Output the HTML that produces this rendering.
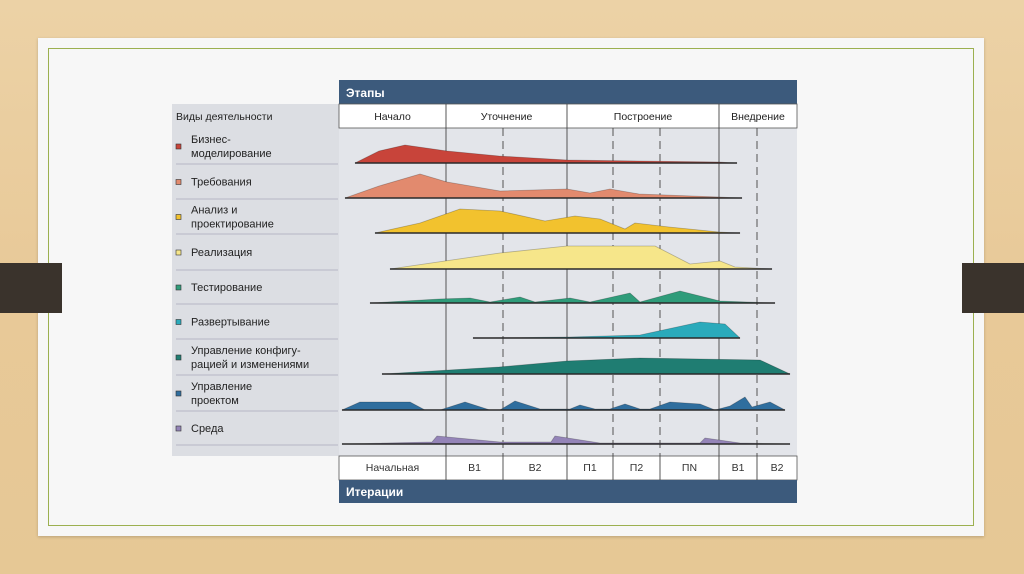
<!DOCTYPE html>
<html><head><meta charset="utf-8"><style>
body{margin:0;width:1024px;height:574px;background:linear-gradient(180deg,#ecd2a6,#e8c998 50%,#e6c895);position:relative;overflow:hidden;font-family:"Liberation Sans",sans-serif}
.card{position:absolute;left:38px;top:38px;width:946px;height:498px;background:#f7f7f7;box-shadow:0 1px 3px rgba(0,0,0,.2)}
.inner{position:absolute;left:10px;top:10px;width:924px;height:476px;border:1.5px solid #9cb050}
.tab{position:absolute;top:263px;width:62px;height:50px;background:#3a332c;z-index:5}
</style></head><body>
<div class="card"><div class="inner"></div></div>
<svg id="chart" width="1024" height="574" style="position:absolute;left:0;top:0" font-family="Liberation Sans, sans-serif"></svg>
<div class="tab" style="left:0"></div>
<div class="tab" style="left:962px"></div>
<script>
const activities=["Бизнес-|моделирование","Требования","Анализ и|проектирование","Реализация","Тестирование","Развертывание","Управление конфигу-|рацией и изменениями","Управление|проектом","Среда"];
const colors=["#c8443a","#e28a6e","#f2c22e","#f6e68a","#2f9c7a","#2aaabb","#1f7d72","#2f6e9e","#9484b8"];
const phases=["Начало","Уточнение","Построение","Внедрение"];
const phaseBounds=[0,107,228,380,458];
const iterations=["Начальная","В1","В2","П1","П2","ПN","В1","В2"];
const iterBounds=[0,107,164,228,274,321,380,418,458];
const t0=[16,40,66,108,160,228,300,380,398];
const h0=[0,12,18,12,7,3,2,1,0];
const t1=[6,40,81,108,161,228,251,271,300,380,403];
const h1=[0,12,24,16,7,9,5,9,4,1,0];
const t2=[36,81,121,161,206,236,261,286,296,330,380,401];
const h2=[0,10,24,22,12,17,14,4,10,6,1,0];
const t3=[51,161,228,316,351,361,381,396,433];
const h3=[0,16,23,23,5,6,8,2,0];
const t4=[31,100,131,151,181,196,231,251,291,301,341,381,436];
const h4=[0,4,5,1,6,1,5,1,10,1,12,2,0];
const t5=[134,231,301,361,386,401];
const h5=[0,1,3,16,14,0];
const t6=[43,160,228,301,421,451];
const h6=[0,7,13,16,14,0];
const t7=[3,21,71,86,101,126,151,161,176,201,231,241,256,271,286,301,311,331,361,376,391,406,413,431,446];
const h7=[0,8,8,0,0,8,0,0,9,1,1,5,1,1,6,1,1,8,6,0,4,13,3,8,0];
const t8=[3,93,98,161,212,216,261,361,366,401,451];
const h8=[0,2,8,2,2,8,1,1,6,1,0];
const times=[t0,t1,t2,t3,t4,t5,t6,t7,t8];
const heights=[h0,h1,h2,h3,h4,h5,h6,h7,h8];
const baselines=[163,198,233,269,303,338,374,410,444];
const X0=339,X1=797;
const xs=t=>X0+t;
const ys=(i,h)=>baselines[i]-h;
const svg=document.getElementById('chart');
const NS="http://www.w3.org/2000/svg";
function mk(tag,attrs,parent){const e=document.createElementNS(NS,tag);for(const k in attrs)e.setAttribute(k,attrs[k]);(parent||svg).appendChild(e);return e;}
let e;
e=mk('rect',{x:172,y:104,width:167,height:352,fill:'#dcdee3'});


e=mk('rect',{x:339,y:128,width:458,height:328,fill:'#e3e5ea'});


e=mk('rect',{x:339,y:80,width:458,height:24,fill:'#3c5a7c'});


e=mk('text',{x:346,y:97,'font-size':12,'font-weight':'bold',fill:'#fff'});e.textContent='Этапы';


e=mk('rect',{x:339,y:104,width:458,height:24,fill:'#fff',stroke:'#555','stroke-width':0.8});


e=mk('rect',{x:339,y:456,width:458,height:24,fill:'#fff',stroke:'#555','stroke-width':0.8});


e=mk('rect',{x:339,y:480,width:458,height:23,fill:'#3c5a7c'});


e=mk('text',{x:346,y:496,'font-size':12,'font-weight':'bold',fill:'#fff'});e.textContent='Итерации';


e=mk('text',{x:176,y:120,'font-size':10.5,fill:'#222'});e.textContent='Виды деятельности';


phases.forEach((p,i)=>{
  const e=mk('text',{x:xs((phaseBounds[i]+phaseBounds[i+1])/2),y:120,'font-size':10.5,'text-anchor':'middle',fill:'#222'});e.textContent=p;
  
  
});
iterations.forEach((p,i)=>{
  const e=mk('text',{x:xs((iterBounds[i]+iterBounds[i+1])/2),y:471,'font-size':10.5,'text-anchor':'middle',fill:'#333'});e.textContent=p;
  
  
});
iterBounds.slice(1,-1).forEach(b=>{
  const solid=phaseBounds.includes(b);
  const e=mk('line',{x1:xs(b),x2:xs(b),y1:104,y2:480,stroke:'#444','stroke-width':0.9,'stroke-dasharray':solid?'':'8,5'});
  if(!solid){e.setAttribute('y1',128);e.setAttribute('y2',456);}
  
  
  if(!solid){const f=mk('line',{x1:xs(b),x2:xs(b),y1:456,y2:480,stroke:'#444','stroke-width':0.9});
  
  }
});
activities.forEach((a,i)=>{
  const rowTop=i===0?128:baselines[i-1]+1, rowBot=baselines[i]+1;
  const cy=(rowTop+rowBot)/2;
  const lines=a.split('|');
  const l=mk('line',{x1:176,x2:338,y1:rowBot,y2:rowBot,stroke:'#aab',"stroke-width":0.8});
  
  
  const sq=mk('rect',{x:176,y:cy-2,width:5,height:5,fill:colors[i],stroke:'#333','stroke-width':0.6});
  
  
  lines.forEach((ln,k)=>{
    const t=mk('text',{x:191,y:cy+4+(k-(lines.length-1)/2)*14,'font-size':11,fill:'#222'});t.textContent=ln;
    
    
  });
  const T=times[i],H=heights[i];
  let d='M'+xs(T[0])+','+baselines[i];
  T.forEach((t,k)=>{d+=' L'+xs(t)+','+ys(i,H[k]);});
  d+=' L'+xs(T[T.length-1])+','+baselines[i]+'Z';
  const p=mk('path',{d:d,fill:colors[i],stroke:'rgba(0,0,0,0.25)','stroke-width':0.8,'stroke-linejoin':'round'});
  
  
  const b=mk('line',{x1:xs(T[0]),x2:xs(T[T.length-1]),y1:baselines[i],y2:baselines[i],stroke:'#2a2a2a','stroke-width':1.6});
  
  
});
</script>
</body></html>
